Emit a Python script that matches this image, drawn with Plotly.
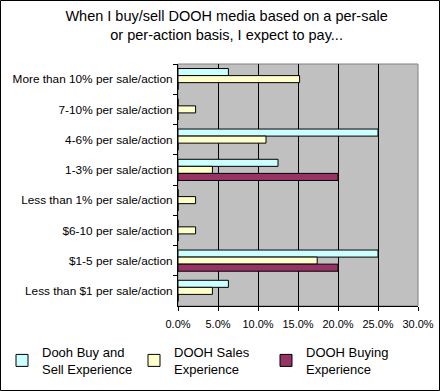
import plotly.graph_objects as go

categories = [
    "More than 10% per sale/action",
    "7-10% per sale/action",
    "4-6% per sale/action",
    "1-3% per sale/action",
    "Less than 1% per sale/action",
    "$6-10 per sale/action",
    "$1-5 per sale/action",
    "Less than $1 per sale/action",
]
buy_and_sell = [6.3, 0, 25.0, 12.5, 0, 0, 25.0, 6.3]
sales = [15.2, 2.2, 11.0, 4.3, 2.2, 2.2, 17.4, 4.3]
buying = [0, 0, 0, 20.0, 0, 0, 20.0, 0]

series = [
    ("Dooh Buy and<br>Sell Experience", buy_and_sell, "#CCFFFF"),
    ("DOOH Sales<br>Experience", sales, "#FFFFCC"),
    ("DOOH Buying<br>Experience", buying, "#993366"),
]

fig = go.Figure()
for name, vals, color in series:
    fig.add_trace(go.Bar(
        y=categories, x=vals, name=name, orientation="h",
        marker=dict(color=color, line=dict(color="black", width=1)),
    ))

W, H = 440, 391
L, R, T, B = 178, 22, 64, 85
pw, ph = W - L - R, H - T - B

fig.update_layout(
    width=W, height=H,
    margin=dict(l=L, r=R, t=T, b=B, autoexpand=False),
    paper_bgcolor="white",
    plot_bgcolor="#C0C0C0",
    font=dict(family="Arial, Liberation Sans, sans-serif", size=11, color="black"),
    title=dict(
        text="When I buy/sell DOOH media based on a per-sale<br>or per-action basis, I expect to pay...",
        x=0.515, xref="container", xanchor="center",
        y=1 - 21 / H, yref="container", yanchor="top",
        font=dict(size=14.5),
    ),
    barmode="group", bargap=0.3, bargroupgap=0,
    showlegend=True,
    legend=dict(
        orientation="h",
        x=(2 - L) / pw, xanchor="left",
        y=(H - B - 337) / ph, yanchor="top",
        entrywidth=87, entrywidthmode="pixels",
        font=dict(size=13), itemwidth=30, tracegroupgap=0,
        bgcolor="rgba(0,0,0,0)",
    ),
    xaxis=dict(
        range=[0, 30], dtick=5, ticksuffix="%", tickformat=".1f",
        showgrid=True, gridcolor="black", gridwidth=1,
        ticks="outside", ticklen=4, tickcolor="black",
        showline=True, linecolor="black", linewidth=1,
        zeroline=False, tickfont=dict(size=11), automargin=False,
        ticklabelstandoff=4,
    ),
    yaxis=dict(
        autorange="reversed", type="category",
        ticks="outside", ticklen=4, tickcolor="black", tickson="boundaries",
        showline=True, linecolor="black", linewidth=1,
        showgrid=False, tickfont=dict(size=11.8), automargin=False,
        ticklabelstandoff=2,
    ),
    shapes=[dict(
        type="rect", xref="paper", yref="paper",
        x0=(0.5 - L) / pw, x1=(W - 0.5 - L) / pw,
        y0=(H - B - (H - 0.5)) / ph, y1=(H - B - 0.5) / ph,
        line=dict(color="black", width=1), fillcolor="rgba(0,0,0,0)",
        layer="above",
    ), dict(
        type="rect", xref="paper", yref="paper", x0=0, x1=1, y0=0, y1=1,
        line=dict(color="#808080", width=1), layer="below",
    )],
)

fig.write_html(
    "out.html",
    config={"displayModeBar": False},
    post_script="document.body.style.margin='0';document.body.style.padding='0';",
)
